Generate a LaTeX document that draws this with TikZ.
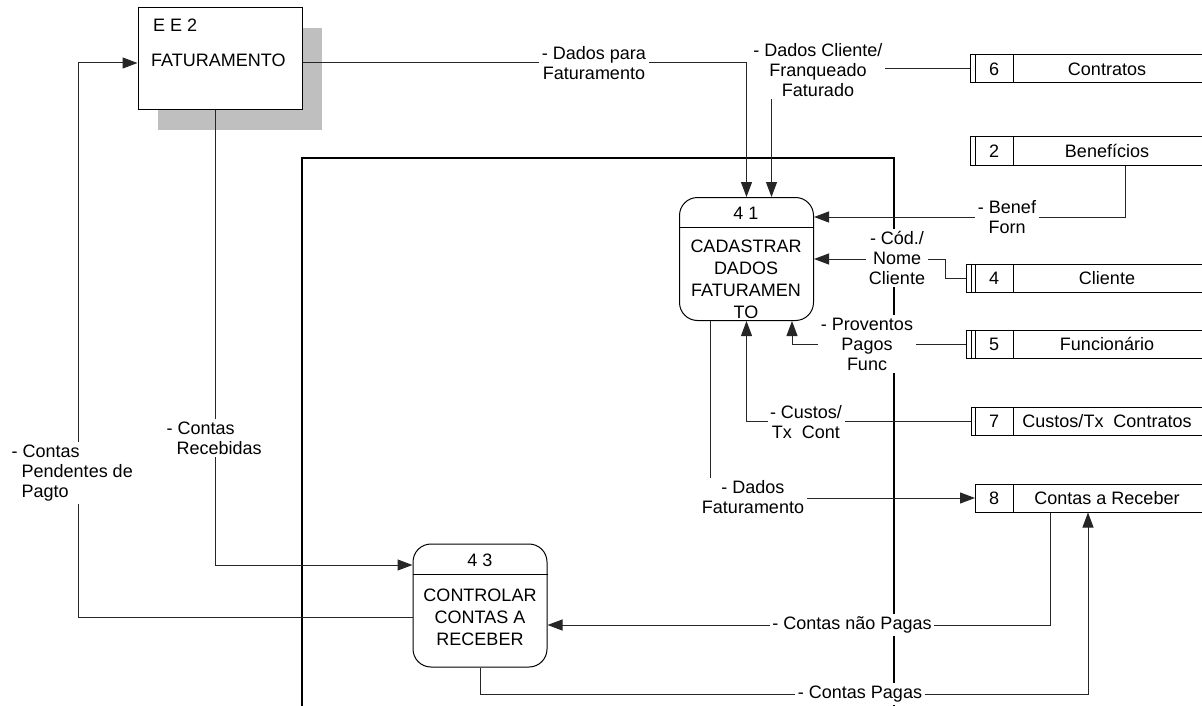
\documentclass[tikz,border=0pt]{standalone}
\usepackage{fontspec}
\setmainfont{Liberation Sans}
\usetikzlibrary{arrows.meta,calc}
\begin{document}
\begin{tikzpicture}[x=1pt,y=-1pt,
  flow/.style={draw=black!85, line width=1pt, -{Triangle[length=15pt,width=11pt]}},
  frameline/.style={draw=black, line width=2pt},
  lbl/.style={fill=white, inner sep=2.5pt, align=center, font=\fontsize{18}{20}\selectfont},
  lbll/.style={lbl, align=left},
  txt/.style={inner sep=0pt, align=center, font=\fontsize{18}{22}\selectfont},
  entitybox/.style={draw=black, line width=1pt, fill=white, minimum width=164pt, minimum height=102pt, inner sep=0pt},
  shadowbox/.style={fill=black!25, minimum width=164pt, minimum height=102pt, inner sep=0pt},
  procbox/.style={draw=black, line width=1pt, fill=white, rounded corners=18pt, minimum width=134pt, minimum height=123pt, inner sep=0pt},
  storebox/.style={draw=black, line width=1pt, minimum height=28pt, inner sep=0pt, anchor=west},
  storeline/.style={draw=black, line width=1pt}
]
\useasboundingbox (0,0) rectangle (1202,706);

% external entity
\node[shadowbox] (eesh) at (240,79) {};
\node[entitybox] (ee) at (220,59) {};
\node[txt, anchor=west] (eet) at (153,25) {E E 2};
\node[txt, anchor=west] (eef) at (151,60) {FATURAMENTO};

% boundary frame
\coordinate (f1) at (302,706);
\coordinate (f2) at (302,158);
\coordinate (f3) at (894,158);
\coordinate (f4) at (894,706);
\draw[frameline] (f1) -- (f2) -- (f3) -- (f4);

% processes
\node[procbox] (p41) at (746.5,259) {};
\draw[storeline] ($(p41.north west)+(0,30)$) -- ($(p41.north east)+(0,30)$);
\node[txt] (p41n) at (746,213) {4 1};
\node[txt] (p41t) at (746,279) {CADASTRAR\\DADOS\\FATURAMEN\\TO};

\node[procbox] (p43) at (480,605.5) {};
\draw[storeline] ($(p43.north west)+(0,31)$) -- ($(p43.north east)+(0,31)$);
\node[txt] (p43n) at (480,560) {4 3};
\node[txt] (p43t) at (480,617) {CONTROLAR\\CONTAS A\\RECEBER};

% data stores: name, y, number, label, left x
\newcommand\mystore[5]{%
  \node[storebox, minimum width={1205-#5}] (#1) at (#5,#2) {};
  \draw[storeline] (975,#2-14) -- (975,#2+14);
  \draw[storeline] (1013,#2-14) -- (1013,#2+14);
  \node[txt] (#1n) at (994,#2) {#3};
  \node[txt] (#1l) at (1107,#2) {#4};
}
\mystore{s6}{69}{6}{Contratos}{970}
\mystore{s2}{151}{2}{Benefícios}{970}
\mystore{s4}{278}{4}{Cliente}{966}
\mystore{s5}{344}{5}{Funcionário}{966}
\mystore{s7}{421}{7}{Custos/Tx\ \ Contratos}{971}
\mystore{s8}{498}{8}{Contas a Receber}{975}
\foreach \s in {s4,s5}{
  \draw[storeline] ([xshift=5pt]\s.north west) -- ([xshift=5pt]\s.south west);
}

% label positions
\coordinate (c1) at (594,63);
\coordinate (c2) at (818,70);
\coordinate (c3) at (1007,217);
\coordinate (c4) at (897,258);
\coordinate (c5) at (867,344);
\coordinate (c6) at (806,422);
\coordinate (c7) at (753,497);
\coordinate (c8) at (164,438);
\coordinate (c9) at (9,473);
\coordinate (c10) at (852,625);
\coordinate (c11) at (860,694);

% connectors
\coordinate (k4) at (945,259);
\coordinate (k9) at (78,63);
\coordinate (k11) at (1088,694);
\draw[flow] (ee.east |- c1) -| (p41.north);
\draw[flow] (s6.west) -| ([xshift=25pt]p41.north);
\draw[flow] ([xshift=155pt]s2.west |- s2.south) |- (p41.east |- c3);
\draw[flow] (s4.west) -| (k4) -- (p41.east |- k4);
\draw[flow] (s5.west) -| ([xshift=45.5pt]p41.south);
\draw[flow] (s7.west) -| (p41.south);
\draw[flow] ([xshift=-36.5pt]p41.south) |- (s8.west);
\draw[flow] ([xshift=-5pt]ee.south) |- ([yshift=40.5pt]p43.west);
\draw[flow] ([yshift=-11.5pt]p43.west) -| (k9) -- ([yshift=-4pt]ee.west);
\draw[flow] ([xshift=75pt]s8.west |- s8.south) |- ([yshift=-19.5pt]p43.east);
\draw[flow] (p43.south) |- (k11) -- (k11 |- s8.south);

% labels
\node[lbl] (l1) at (c1) {- Dados para\\Faturamento};
\node[lbl] (l2) at (c2) {- Dados Cliente/\\Franqueado\\Faturado};
\node[lbl] (l3) at (c3) {- Benef\\Forn};
\node[lbl] (l4) at (c4) {- Cód./\\Nome\\Cliente};
\node[lbl] (l5) at (c5) {- Proventos\\Pagos\\Func};
\node[lbl] (l6) at (c6) {- Custos/\\Tx\ \ Cont};
\node[lbl] (l7) at (c7) {- Dados\\Faturamento};
\node[lbll, anchor=west] (l8) at (c8) {- Contas\\\ \ Recebidas};
\node[lbll, anchor=west] (l9) at (c9) {- Contas\\\ \ Pendentes de\\\ \ Pagto};
\node[lbl] (l10) at (c10) {- Contas não Pagas};
\node[lbl] (l11) at (c11) {- Contas Pagas};
\end{tikzpicture}
\end{document}
